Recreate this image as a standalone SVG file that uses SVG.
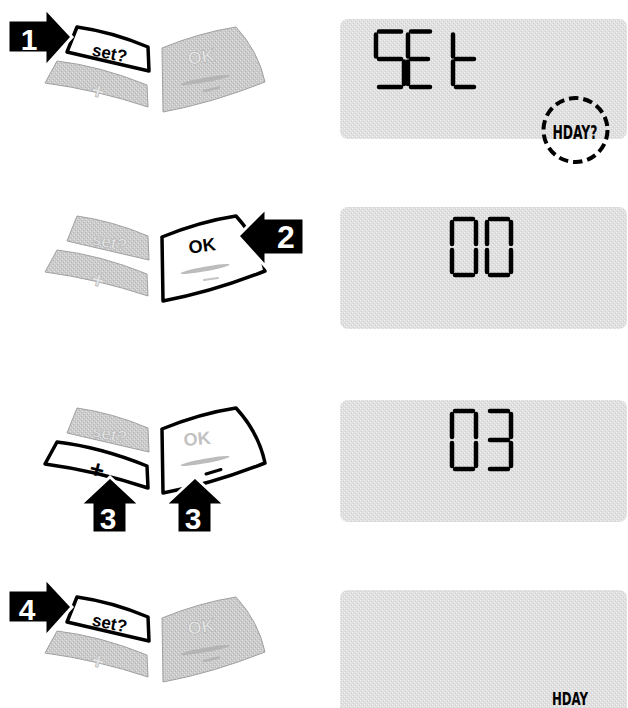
<svg xmlns="http://www.w3.org/2000/svg" xmlns:xlink="http://www.w3.org/1999/xlink" width="628" height="708" viewBox="0 0 628 708">
<style>
.lcd{fill:url(#lcdPat)}
.hi{fill:#fff;stroke:#000;stroke-width:3.5;stroke-linejoin:round}
.lo{fill:url(#btnPat);stroke:#a0a0a0;stroke-width:1;stroke-linejoin:round}
.arrow{fill:#000;stroke:#fff;stroke-width:3;stroke-linejoin:miter}
.num{font-family:"Liberation Sans",Arial,sans-serif;font-weight:bold;fill:#fff;text-anchor:middle}
.lbl{font-family:"Liberation Sans",Arial,sans-serif;font-weight:bold;text-anchor:middle}
.dark{fill:#000}
.faint{fill:#e6e6e6;stroke:#b0b0b0;stroke-width:0.6}
.grey{fill:#c2c2c2}
.seg{fill:none;stroke:#000;stroke-width:4.5;stroke-linecap:round}
.hday{font-family:"Liberation Sans Narrow","DejaVu Sans Condensed","Liberation Sans",sans-serif;font-weight:bold;fill:#000}
.ring{fill:none;stroke:#000;stroke-width:4;stroke-dasharray:9.5 4.9}
</style>
<defs>
<pattern id="lcdPat" width="4" height="4" patternUnits="userSpaceOnUse">
<rect width="4" height="4" fill="#e0e0e0"/>
<rect x="0" y="0" width="1" height="1" fill="#f3f3f3"/>
<rect x="2" y="2" width="1" height="1" fill="#f3f3f3"/>
<rect x="1" y="3" width="1" height="1" fill="#cfcfcf"/>
<rect x="3" y="1" width="1" height="1" fill="#cfcfcf"/>
</pattern>
<pattern id="btnPat" width="4" height="4" patternUnits="userSpaceOnUse">
<rect width="4" height="4" fill="#cbcbcb"/>
<rect x="0" y="0" width="1" height="1" fill="#e4e4e4"/>
<rect x="2" y="2" width="1" height="1" fill="#e4e4e4"/>
<rect x="1" y="3" width="1" height="1" fill="#b6b6b6"/>
<rect x="3" y="1" width="1" height="1" fill="#b6b6b6"/>
</pattern>
<path id="btnSet" d="M77,27 Q112.5,32 148,47 L149,71 L67,52 Z"/>
<path id="btnPlus" d="M57,61 Q100,66 147,85 L148,107 Q97,90 45,83 Z"/>
<path id="btnOk" d="M162,48 Q200,32.5 236,27 Q258.5,51.5 265,82 Q212,103 163,112 Z"/>
<ellipse id="okLine" cx="205" cy="80" rx="25" ry="2.3" transform="rotate(-10 205 80)"/>
</defs>
<rect width="628" height="708" fill="#fff"/>

<!-- LCD panels -->
<g id="lcd1">
<rect class="lcd" x="340" y="19" width="287" height="120" rx="8"/>
<path class="seg" d="M379,31.5H401 M376,34.5V56.5 M379,59H401 M404,61.5V84 M379,87H401"/>
<path class="seg" d="M411,31.5H430 M408,34.5V56.5 M408,61.5V84 M411,59H428 M411,87H430"/>
<path class="seg" d="M453,34.5V56.5 M453,61.5V84 M456,59H474 M456,87H474"/>
<circle class="ring" cx="575.5" cy="130" r="32"/>
<text class="hday" x="552.5" y="138.5" font-size="20" textLength="45" lengthAdjust="spacingAndGlyphs">HDAY?</text>
</g>
<g id="lcd2">
<rect class="lcd" x="340" y="207" width="287" height="122" rx="8"/>
<path class="seg" d="M455,219H473 M452,222V244 M452,250V272 M476,222V244 M476,250V272 M455,275H473"/>
<path class="seg" d="M490,219H508 M487,222V244 M487,250V272 M511,222V244 M511,250V272 M490,275H508"/>
</g>
<g id="lcd3">
<rect class="lcd" x="340" y="400" width="287" height="122" rx="8"/>
<path class="seg" d="M455,411H473 M452,414V437 M452,443V466 M476,414V437 M476,443V466 M455,469H473"/>
<path class="seg" d="M490,411H508 M511,414V437 M511,443V466 M490,440H508 M490,469H508"/>
</g>
<g id="lcd4">
<rect class="lcd" x="340" y="590" width="287" height="130" rx="8"/>
<text class="hday" x="552" y="705" font-size="17" textLength="36" lengthAdjust="spacingAndGlyphs">HDAY</text>
</g>

<!-- Keypads -->
<g id="keypad1">
<use xlink:href="#btnPlus" class="lo"/>
<text class="lbl faint" x="98" y="99" font-size="24" transform="rotate(15 98 91)">+</text>
<use xlink:href="#btnOk" class="lo"/>
<text class="lbl faint" x="201" y="63" font-size="18" transform="rotate(-9 201 56)">OK</text>
<use xlink:href="#okLine" fill="#b4b4b4"/>
<path d="M204,91 L219,87.5" stroke="#b4b4b4" stroke-width="2.5" stroke-linecap="round"/>
<use xlink:href="#btnSet" class="hi"/>
<text class="lbl dark" x="109.5" y="59" font-size="17" transform="rotate(12 109.5 54)">set?</text>
</g>
<g id="keypad2" transform="translate(0,189)">
<use xlink:href="#btnSet" class="lo"/>
<text class="lbl faint" x="109.5" y="59" font-size="17" transform="rotate(12 109.5 54)">set?</text>
<use xlink:href="#btnPlus" class="lo"/>
<text class="lbl faint" x="98" y="99" font-size="24" transform="rotate(15 98 91)">+</text>
<use xlink:href="#btnOk" class="hi"/>
<text class="lbl dark" x="202" y="63" font-size="18" transform="rotate(-8 202 56)">OK</text>
<use xlink:href="#okLine" fill="#bcbcbc"/>
<path d="M204,91 L218,89" stroke="#c4c4c4" stroke-width="2" stroke-linecap="round"/>
</g>
<g id="keypad3" transform="translate(0,381)">
<use xlink:href="#btnSet" class="lo"/>
<text class="lbl faint" x="109.5" y="59" font-size="17" transform="rotate(12 109.5 54)">set?</text>
<use xlink:href="#btnPlus" class="hi"/>
<text class="lbl dark" x="97" y="97" font-size="25" transform="rotate(15 97 89)">+</text>
<use xlink:href="#btnOk" class="hi"/>
<text class="lbl grey" x="197" y="64" font-size="18" transform="rotate(-6 197 57)">OK</text>
<use xlink:href="#okLine" fill="#bcbcbc"/>
<path d="M206,93 L221,88.5" stroke="#000" stroke-width="3" stroke-linecap="round"/>
</g>
<g id="keypad4" transform="translate(0,570)">
<use xlink:href="#btnPlus" class="lo"/>
<text class="lbl faint" x="98" y="99" font-size="24" transform="rotate(15 98 91)">+</text>
<use xlink:href="#btnOk" class="lo"/>
<text class="lbl faint" x="201" y="63" font-size="18" transform="rotate(-9 201 56)">OK</text>
<use xlink:href="#okLine" fill="#b4b4b4"/>
<path d="M204,91 L219,87.5" stroke="#b4b4b4" stroke-width="2.5" stroke-linecap="round"/>
<use xlink:href="#btnSet" class="hi"/>
<text class="lbl dark" x="109.5" y="59" font-size="17" transform="rotate(12 109.5 54)">set?</text>
</g>

<!-- Step arrows -->
<g id="connectors">
<g id="step1">
<path class="arrow" d="M8,20 L45,20 L45,8 L72,37 L45,67 L45,53 L8,53 Z"/>
<text class="num" x="29" y="50" font-size="30">1</text>
</g>
<g id="step2">
<path class="arrow" d="M304,218 L266,218 L266,208 L238,236 L266,267 L266,255 L304,255 Z"/>
<text class="num" x="286" y="248" font-size="32">2</text>
</g>
<g id="step3a">
<path class="arrow" d="M92,533 L92,505 L80,505 L110,477 L140,505 L127,505 L127,533 Z"/>
<text class="num" x="108" y="529" font-size="30">3</text>
</g>
<g id="step3b">
<path class="arrow" d="M177,533 L177,505 L165,505 L195,477 L225,505 L212,505 L212,533 Z"/>
<text class="num" x="193" y="529" font-size="30">3</text>
</g>
<g id="step4">
<path class="arrow" d="M8,590 L45,590 L45,578 L72,607 L45,637 L45,623 L8,623 Z"/>
<text class="num" x="27" y="620" font-size="30">4</text>
</g>
</g>
</svg>
